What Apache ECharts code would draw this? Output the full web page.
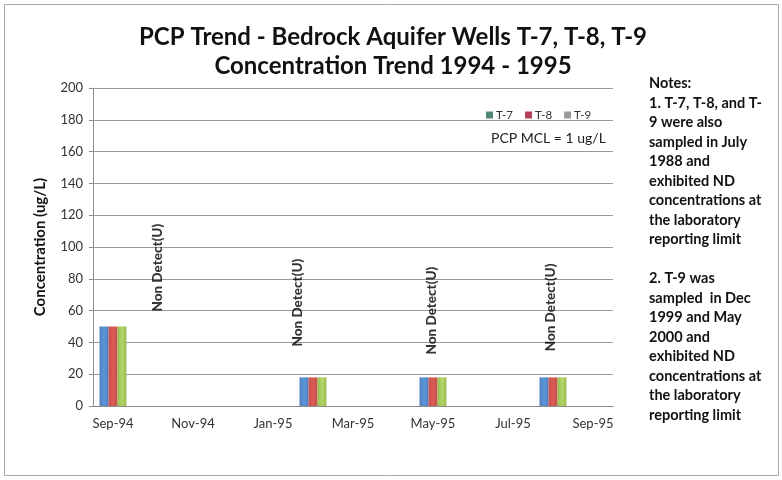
<!DOCTYPE html>
<html>
<head>
<meta charset="utf-8">
<script src="https://cdn.jsdelivr.net/npm/echarts@6/dist/echarts.min.js"></script>
<style>
  html, body { margin: 0; padding: 0; background: #fff; }
  #chart { width: 782px; height: 480px; }
</style>
</head>
<body>
<div id="chart"></div>
<script>
// Monthly slots on the date axis
var months = ['Sep-94', 'Oct-94', 'Nov-94', 'Dec-94', 'Jan-95', 'Feb-95', 'Mar-95',
              'Apr-95', 'May-95', 'Jun-95', 'Jul-95', 'Aug-95', 'Sep-95'];

// PCP concentrations (ug/L) per well; null = not sampled that month
var t7 = [50, null, null, null, null, 18, null, null, 18, null, null, 18, null];
var t8 = [50, null, null, null, null, 18, null, null, 18, null, null, 18, null];
var t9 = [50, null, null, null, null, 18, null, null, 18, null, null, 18, null];

// Non-detect annotations: month and height of the label centre (ug/L)
var ndMonths = ['Oct-94', 'Feb-95', 'May-95', 'Aug-95'];
var ndLevels = [87, 65, 60, 62];
var ndText = 'Non Detect(U)';

var yTicks = [0, 20, 40, 60, 80, 100, 120, 140, 160, 180, 200];

var notes = [
  'Notes:',
  '1. T-7, T-8, and T-',
  '9 were also',
  'sampled in July',
  '1988 and',
  'exhibited ND',
  'concentrations at',
  'the laboratory',
  'reporting limit',
  '',
  '2. T-9 was',
  'sampled  in Dec',
  '1999 and May',
  '2000 and',
  'exhibited ND',
  'concentrations at',
  'the laboratory',
  'reporting limit'
];

var FONT = 'Lato, "Open Sans", sans-serif';
var chart = echarts.init(document.getElementById('chart'), null, { renderer: 'canvas' });

function barSeries(name, data, color) {
  return {
    name: name,
    type: 'bar',
    data: data,
    barWidth: 9,
    barGap: '0%',
    itemStyle: {
      color: new echarts.graphic.LinearGradient(0, 0, 1, 0, [
        { offset: 0, color: color },
        { offset: 0.5, color: echarts.color.lift(color, -0.15) },
        { offset: 1, color: color }
      ])
    }
  };
}

// Horizontal nudges (px) so each annotation sits beside its bars
var ndNudge = [5, -15, -1, -2];

function ndLabel(dx) {
  return {
    show: true,
    position: 'inside',
    rotate: 90,
    // label frame is rotated, so its local y runs left-to-right on screen
    offset: [0, dx],
    formatter: ndText,
    fontFamily: FONT,
    fontSize: 13.5,
    fontWeight: 900,
    color: '#000'
  };
}

var option = {
  backgroundColor: '#fff',
  animation: false,
  textStyle: { fontFamily: FONT },
  title: {
    text: 'PCP Trend - Bedrock Aquifer Wells T-7, T-8, T-9\nConcentration Trend 1994 - 1995',
    left: 388,
    top: 18,
    textAlign: 'center',
    textStyle: { fontFamily: FONT, fontSize: 24, fontWeight: 'bold', color: '#111', lineHeight: 29 }
  },
  legend: {
    left: 481,
    top: 104,
    itemWidth: 7,
    itemHeight: 7,
    itemGap: 12,
    icon: 'rect',
    textStyle: { fontSize: 11.5, color: '#333', padding: [0, 0, 0, -2] },
    data: [
      { name: 'T-7', itemStyle: { color: '#4f8574' } },
      { name: 'T-8', itemStyle: { color: '#b4415c' } },
      { name: 'T-9', itemStyle: { color: '#9a9a9a' } }
    ]
  },
  grid: { left: 93, right: 169, top: 88, bottom: 74 },
  xAxis: {
    type: 'category',
    data: months,
    boundaryGap: true,
    axisLine: { lineStyle: { color: '#8c8c8c' } },
    axisTick: { interval: 1, length: 4, lineStyle: { color: '#8c8c8c' } },
    axisLabel: { interval: 1, color: '#333', fontSize: 13, margin: 11 },
    splitLine: { show: false }
  },
  yAxis: {
    type: 'value',
    min: yTicks[0],
    max: yTicks[yTicks.length - 1],
    interval: yTicks[1] - yTicks[0],
    name: 'Concentration (ug/L)',
    nameLocation: 'middle',
    nameGap: 45,
    nameTextStyle: { fontSize: 15, fontWeight: 'bold', color: '#111' },
    axisLine: { show: true, lineStyle: { color: '#8c8c8c' } },
    axisTick: { show: true, length: 4, lineStyle: { color: '#8c8c8c' } },
    axisLabel: { color: '#333', fontSize: 13, margin: 10 },
    splitLine: { lineStyle: { color: '#9a9a9a', width: 1 } }
  },
  series: [
    barSeries('T-7', t7, '#4f81bd'),
    barSeries('T-8', t8, '#c0504d'),
    barSeries('T-9', t9, '#9bbb59'),
    {
      name: 'Non Detect',
      type: 'scatter',
      symbolSize: 0,
      silent: true,
      data: ndMonths.map(function (m, i) {
        return { value: [m, ndLevels[i]], label: ndLabel(ndNudge[i]) };
      }),
      label: ndLabel(0)
    }
  ],
  graphic: [
    {
      type: 'rect',
      shape: { x: 4.5, y: 4.5, width: 774, height: 471 },
      style: { fill: null, stroke: '#a8a8a8', lineWidth: 1 },
      silent: true,
      z: -1
    },
    {
      type: 'text',
      left: 491,
      top: 131,
      style: { text: 'PCP MCL = 1 ug/L', font: '14px ' + FONT, fill: '#222' }
    },
    {
      type: 'text',
      left: 649,
      top: 74,
      style: {
        text: notes.join('\n'),
        font: 'bold 14.5px ' + FONT,
        lineHeight: 19.5,
        fill: '#111'
      }
    }
  ]
};

chart.setOption(option);
</script>
</body>
</html>
